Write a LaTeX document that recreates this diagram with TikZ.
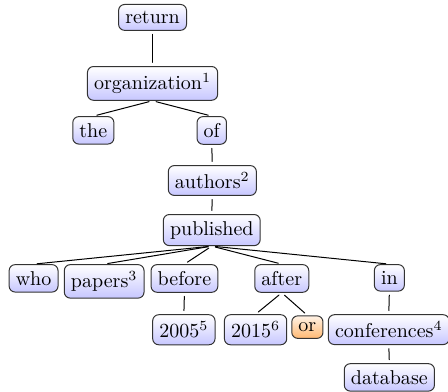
\documentclass[tikz,border=0pt]{standalone}
\begin{document}
\begin{tikzpicture}[line cap=round,line join=round,
  every node/.style={inner sep=3.33pt,anchor=north},
  tok/.style={draw=black!80,line width=0.5pt,rounded corners=3pt,top color=white,bottom color=blue!22},
  conj/.style={draw=black!80,line width=0.5pt,rounded corners=3pt,top color=orange!10,bottom color=orange!55},
  dep/.style={line width=0.5pt,shorten <=1.8pt,shorten >=1.8pt}]
  \useasboundingbox (0,0) rectangle (7.87,-6.87);
  % wurzel und erste ebenen
  \node[tok] (ret) at (2.68,-0.07) {return};
  \node[tok] (org) at (2.68,-1.16) {organization$^1$};
  \node[tok] (the) at (1.64,-2.04) {the};
  \node[tok] (of) at (3.72,-2.04) {of};
  \node[tok] (auth) at (3.73,-2.90) {authors$^2$};
  \node[tok] (pub) at (3.72,-3.76) {published};
  % kinder von published
  \node[tok] (who) at (0.59,-4.64) {who};
  \node[tok] (pap) at (1.83,-4.64) {papers$^3$};
  \node[tok] (bef) at (3.24,-4.64) {before};
  \node[tok] (aft) at (4.95,-4.64) {after};
  \node[tok] (in) at (6.84,-4.64) {in};
  % unterste ebenen
  \node[tok] (y05) at (3.23,-5.52) {2005$^5$};
  \node[tok] (y15) at (4.49,-5.52) {2015$^6$};
  \node[conj] (or) at (5.40,-5.54) {or};
  \node[tok] (conf) at (6.83,-5.52) {conferences$^4$};
  \node[tok] (db) at (6.84,-6.38) {database};
  % kanten
  \draw[dep] (ret.south) -- (org.north);
  \draw[dep] (org.south) -- (the.north);
  \draw[dep] (org.south) -- (of.north);
  \draw[dep] (of.south) -- (auth.north);
  \draw[dep] (auth.south) -- (pub.north);
  \foreach \c in {who,pap,bef,aft,in}
    \draw[dep] (pub.south) -- (\c.north);
  \draw[dep] (bef.south) -- (y05.north);
  \draw[dep] (aft.south) -- (y15.north);
  \draw[dep] (aft.south) -- (or.north);
  \draw[dep] (in.south) -- (conf.north);
  \draw[dep] (conf.south) -- (db.north);
\end{tikzpicture}
\end{document}
